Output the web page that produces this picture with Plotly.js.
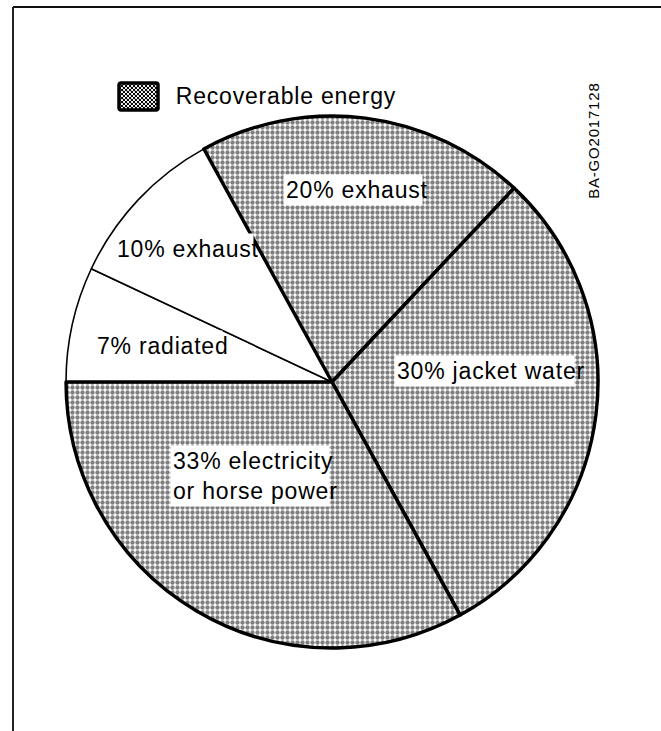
<!DOCTYPE html>
<html>
<head>
<meta charset="utf-8">
<script src="https://cdn.plot.ly/plotly-3.0.1.min.js"></script>
<style>
html,body{margin:0;padding:0;background:#fff;}
#chart{width:661px;height:731px;}
#chart .annotation-text{letter-spacing:0.8px;}
</style>
</head>
<body>
<div id="chart"></div>
<script>
// ---- data ----
const sliceLabels = ['7% radiated', '10% exhaust', '20% exhaust', '30% jacket water', '33% electricity<br>or horse power'];
const sliceValues = [7, 10, 20, 30, 33];
const recoverable = [false, false, true, true, true];
const legendLabel = 'Recoverable energy';
const figureCode = 'BA-GO2017128';

// ---- layout helpers (pixel -> paper) ----
const W = 661, H = 731;
const px = x => x / W;
const py = y => 1 - y / H;

// label anchor positions in pixels (layout only)
const labelPos = [[158, 346], [184, 249], [353, 190], [485, 371], [250, 476]];

const trace = {
  type: 'pie',
  labels: sliceLabels,
  values: sliceValues,
  sort: false,
  direction: 'clockwise',
  rotation: 270,
  textinfo: 'none',
  hoverinfo: 'skip',
  showlegend: false,
  domain: {x: [px(66), px(598)], y: [py(648), py(116)]},
  marker: {
    colors: sliceValues.map(() => '#ffffff'),
    pattern: {
      shape: recoverable.map(r => r ? '.' : ''),
      fgcolor: '#000000',
      bgcolor: '#ffffff',
      size: 5,
      solidity: 0.6,
      fillmode: 'overlay'
    },
    line: {color: '#000000', width: recoverable.map(r => r ? 3.4 : 1.6)}
  }
};

const swatchSvg = "<svg xmlns='http://www.w3.org/2000/svg' width='43' height='31'>" +
  "<defs><pattern id='p' width='4' height='4' patternUnits='userSpaceOnUse'>" +
  "<rect width='4' height='4' fill='white'/><circle cx='1' cy='1' r='1.2' fill='black'/><circle cx='3' cy='3' r='1.2' fill='black'/>" +
  "</pattern></defs><rect x='2' y='2' width='39' height='27' rx='2' fill='url(#p)' stroke='black' stroke-width='3.5'/></svg>";

const font = {family: 'Liberation Sans, Arial, sans-serif', size: 23, color: '#000'};

const annotations = sliceLabels.map((t, i) => ({
  text: t,
  x: px(labelPos[i][0]), y: py(labelPos[i][1]),
  xref: 'paper', yref: 'paper',
  xanchor: 'center', yanchor: 'middle',
  showarrow: false,
  align: 'left',
  bgcolor: '#ffffff',
  borderpad: 2,
  font: font
}));
annotations.push({
  text: legendLabel, x: px(181), y: py(96), xref: 'paper', yref: 'paper',
  xanchor: 'left', yanchor: 'middle', showarrow: false, font: font
});
annotations.push({
  text: figureCode, x: px(593), y: py(141), xref: 'paper', yref: 'paper',
  xanchor: 'center', yanchor: 'middle', showarrow: false, textangle: -90,
  font: {family: 'Liberation Sans, Arial, sans-serif', size: 15, color: '#000'}
});

const layout = {
  width: W, height: H,
  margin: {l: 0, r: 0, t: 0, b: 0},
  paper_bgcolor: '#ffffff',
  plot_bgcolor: '#ffffff',
  showlegend: false,
  annotations: annotations,
  images: [{
    source: 'data:image/svg+xml;charset=utf-8,' + encodeURIComponent(swatchSvg),
    xref: 'paper', yref: 'paper',
    x: px(117), y: py(81), sizex: 43 / W, sizey: 31 / H,
    xanchor: 'left', yanchor: 'top', sizing: 'stretch', layer: 'above'
  }],
  shapes: [
    {type: 'line', xref: 'paper', yref: 'paper', x0: px(13), x1: 1, y0: py(7), y1: py(7), line: {color: '#111', width: 2}},
    {type: 'line', xref: 'paper', yref: 'paper', x0: px(13), x1: px(13), y0: py(7), y1: 0, line: {color: '#222', width: 2}}
  ]
};

Plotly.newPlot('chart', [trace], layout, {staticPlot: true, displayModeBar: false});
</script>
</body>
</html>
